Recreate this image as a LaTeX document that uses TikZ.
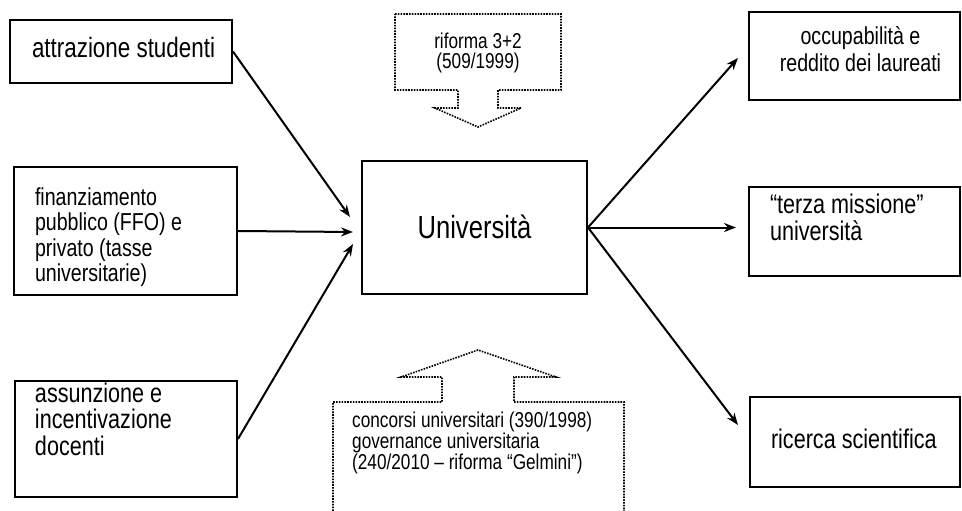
\documentclass[tikz,border=0pt]{standalone}
\usepackage{fontspec}
\setmainfont[FakeStretch=0.8]{Liberation Sans}
\usetikzlibrary{arrows.meta}
\lineskiplimit=-100pt

\begin{document}
\begin{tikzpicture}[x=1pt, y=-1pt, >={Stealth[length=12pt,width=9pt]}, line join=miter,
                    box/.style={draw, line width=2pt, inner xsep=0pt, inner ysep=0pt, align=flush left},
                    txt/.style={inner sep=0pt},
                    freccia/.style={->, line width=2pt},
                    callout/.style={line width=1.6pt, dash pattern=on 1.6pt off 1.2pt}]

  \useasboundingbox (0,0) rectangle (962,511);

  %--- fattori in ingresso (colonna sinistra) ---
  \node[box, text width=222pt, minimum height=63pt,
        text height=20.5pt, text depth=7.5pt, font=\fontsize{28}{28}\selectfont]
        (attr) at (121,51.5) {\leftskip=22pt attrazione studenti\par};
  \node[box, text width=223pt, minimum height=128pt,
        text height=18pt, text depth=70pt, font=\fontsize{24.5}{25.5}\selectfont]
        (fin) at (125.5,231) {\leftskip=21pt finanziamento\\pubblico (FFO) e\\privato (tasse\\universitarie)\par};
  \node[box, text width=222pt, minimum height=116pt,
        text height=19.5pt, text depth=93.5pt, font=\fontsize{27}{26.5}\selectfont]
        (doc) at (126,439) {\leftskip=20pt assunzione e\\incentivazione\\docenti\par};

  %--- nodo centrale ---
  \node[box, align=center, minimum width=225pt, minimum height=133pt,
        text height=22pt, text depth=0pt, font=\fontsize{32}{32}\selectfont]
        (univ) at (474.5,227.5) {Università};

  %--- risultati (colonna destra) ---
  \node[box, align=flush center, text width=211pt, minimum height=88pt,
        text height=18pt, text depth=40pt, font=\fontsize{24.5}{27}\selectfont]
        (occ) at (854.5,56) {\leftskip=12pt plus 1fil occupabilità e\\reddito dei laureati\par};
  \node[box, text width=211pt, minimum height=89pt,
        text height=19.5pt, text depth=56.5pt, font=\fontsize{27}{27}\selectfont]
        (terza) at (854.5,231.5) {\leftskip=21pt “terza missione”\\università\par};
  \node[box, text width=210pt, minimum height=90pt,
        text height=19.5pt, text depth=7.5pt, font=\fontsize{27}{27}\selectfont]
        (ric) at (855,442) {\leftskip=21pt ricerca scientifica\par};

  %--- riforme (frecce tratteggiate) ---
  % riforma 3+2, dall'alto
  \draw[callout] (395,14) -- (561,14) -- (561,90) -- (498,90) -- (498,108)
      -- (521,108) -- (478,127) -- (435,108) -- (458,108) -- (458,90)
      -- (395,90) -- cycle;
  \node[txt, align=flush center, text width=150pt, anchor=base,
        font=\fontsize{21.5}{19.5}\selectfont]
        (rif) at (478,49) {riforma 3+2\\(509/1999)};

  % concorsi e governance, dal basso
  \draw[callout] (333,511) -- (333,402) -- (442,402) -- (442,377) -- (401,377)
      -- (478,350) -- (556,377) -- (514,377) -- (514,402) -- (624,402) -- (624,511);
  \node[txt, align=flush left, text width=265pt, anchor=base west,
        font=\fontsize{21.5}{17.8}\selectfont]
        (conc) at (352,427) {concorsi universitari (390/1998)\\governance universitaria\\(240/2010 – riforma “Gelmini”)};

  %--- frecce ---
  \coordinate (inA) at (350,217);
  \coordinate (inB) at (353,232);
  \coordinate (inC) at (353,244);
  \coordinate (outD) at (738,58);
  \coordinate (outE) at (736,227.5);
  \coordinate (outF) at (738,425);

  \draw[freccia] (attr.east) -- (inA);
  \draw[freccia] (fin.east) -- (inB);
  \draw[freccia] (doc.east) -- (inC);

  \draw[freccia] (univ.east) -- (outD);
  \draw[freccia] (univ.east) -- (outE);
  \draw[freccia] (univ.east) -- (outF);

\end{tikzpicture}
\end{document}
